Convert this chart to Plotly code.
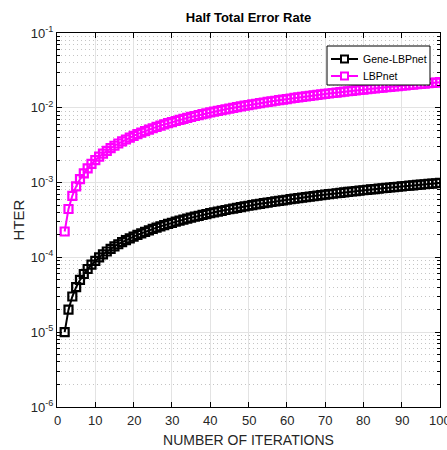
import plotly.graph_objects as go

# ---- data ----
iterations = [
    2, 3, 4, 5, 6, 7, 8, 9, 10,
    11, 12, 13, 14, 15, 16, 17, 18, 19, 20,
    21, 22, 23, 24, 25, 26, 27, 28, 29, 30,
    31, 32, 33, 34, 35, 36, 37, 38, 39, 40,
    41, 42, 43, 44, 45, 46, 47, 48, 49, 50,
    51, 52, 53, 54, 55, 56, 57, 58, 59, 60,
    61, 62, 63, 64, 65, 66, 67, 68, 69, 70,
    71, 72, 73, 74, 75, 76, 77, 78, 79, 80,
    81, 82, 83, 84, 85, 86, 87, 88, 89, 90,
    91, 92, 93, 94, 95, 96, 97, 98, 99, 100,
]

gene_lbpnet = [
    1.0e-5, 2.0e-5, 3.0e-5, 4.0e-5, 5.0e-5, 6.0e-5, 7.0e-5, 8.0e-5, 9.0e-5,
    1.0e-4, 1.1e-4, 1.2e-4, 1.3e-4, 1.4e-4, 1.5e-4, 1.6e-4, 1.7e-4, 1.8e-4, 1.9e-4,
    2.0e-4, 2.1e-4, 2.2e-4, 2.3e-4, 2.4e-4, 2.5e-4, 2.6e-4, 2.7e-4, 2.8e-4, 2.9e-4,
    3.0e-4, 3.1e-4, 3.2e-4, 3.3e-4, 3.4e-4, 3.5e-4, 3.6e-4, 3.7e-4, 3.8e-4, 3.9e-4,
    4.0e-4, 4.1e-4, 4.2e-4, 4.3e-4, 4.4e-4, 4.5e-4, 4.6e-4, 4.7e-4, 4.8e-4, 4.9e-4,
    5.0e-4, 5.1e-4, 5.2e-4, 5.3e-4, 5.4e-4, 5.5e-4, 5.6e-4, 5.7e-4, 5.8e-4, 5.9e-4,
    6.0e-4, 6.1e-4, 6.2e-4, 6.3e-4, 6.4e-4, 6.5e-4, 6.6e-4, 6.7e-4, 6.8e-4, 6.9e-4,
    7.0e-4, 7.1e-4, 7.2e-4, 7.3e-4, 7.4e-4, 7.5e-4, 7.6e-4, 7.7e-4, 7.8e-4, 7.9e-4,
    8.0e-4, 8.1e-4, 8.2e-4, 8.3e-4, 8.4e-4, 8.5e-4, 8.6e-4, 8.7e-4, 8.8e-4, 8.9e-4,
    9.0e-4, 9.1e-4, 9.2e-4, 9.3e-4, 9.4e-4, 9.5e-4, 9.6e-4, 9.7e-4, 9.8e-4, 9.9e-4,
]

lbpnet = [
    2.22e-4, 4.44e-4, 6.66e-4, 8.88e-4, 1.11e-3, 1.33e-3, 1.55e-3, 1.78e-3, 2.00e-3,
    2.22e-3, 2.44e-3, 2.66e-3, 2.89e-3, 3.11e-3, 3.33e-3, 3.55e-3, 3.77e-3, 4.00e-3, 4.22e-3,
    4.44e-3, 4.66e-3, 4.88e-3, 5.11e-3, 5.33e-3, 5.55e-3, 5.77e-3, 5.99e-3, 6.22e-3, 6.44e-3,
    6.66e-3, 6.88e-3, 7.10e-3, 7.33e-3, 7.55e-3, 7.77e-3, 7.99e-3, 8.21e-3, 8.44e-3, 8.66e-3,
    8.88e-3, 9.10e-3, 9.32e-3, 9.55e-3, 9.77e-3, 9.99e-3, 1.021e-2, 1.043e-2, 1.066e-2, 1.088e-2,
    1.110e-2, 1.132e-2, 1.154e-2, 1.177e-2, 1.199e-2, 1.221e-2, 1.243e-2, 1.265e-2, 1.288e-2, 1.310e-2,
    1.332e-2, 1.354e-2, 1.376e-2, 1.399e-2, 1.421e-2, 1.443e-2, 1.465e-2, 1.487e-2, 1.510e-2, 1.532e-2,
    1.554e-2, 1.576e-2, 1.598e-2, 1.621e-2, 1.643e-2, 1.665e-2, 1.687e-2, 1.709e-2, 1.732e-2, 1.754e-2,
    1.776e-2, 1.798e-2, 1.820e-2, 1.843e-2, 1.865e-2, 1.887e-2, 1.909e-2, 1.931e-2, 1.954e-2, 1.976e-2,
    1.998e-2, 2.020e-2, 2.042e-2, 2.065e-2, 2.087e-2, 2.109e-2, 2.131e-2, 2.153e-2, 2.176e-2, 2.198e-2,
]

series_names = ["Gene-LBPnet", "LBPnet"]
series_colors = ["black", "#ff00ff"]

x_ticks = [0, 10, 20, 30, 40, 50, 60, 70, 80, 90, 100]
x_ticklabels = ["0", "10", "20", "30", "40", "50", "60", "70", "80", "90", "100"]
y_tickvals = [1e-6, 1e-5, 1e-4, 1e-3, 1e-2, 1e-1]
y_ticktext = ["10<sup>-6</sup>", "10<sup>-5</sup>", "10<sup>-4</sup>",
              "10<sup>-3</sup>", "10<sup>-2</sup>", "10<sup>-1</sup>"]

FONT = "Liberation Sans, Arial, sans-serif"
TXT = "#262626"

W, H = 447, 450
ML, MR, MT, MB = 57, 7, 33, 43
PW, PH = W - ML - MR, H - MT - MB


def px_to_paper(px, py):
    return (px - ML) / PW, (H - MB - py) / PH


fig = go.Figure()
for name, vals, col in zip(series_names, [gene_lbpnet, lbpnet], series_colors):
    fig.add_trace(go.Scatter(
        x=iterations, y=vals, name=name, mode="lines+markers", showlegend=False,
        line=dict(color=col, width=2),
        marker=dict(symbol="square-open", size=8, color=col, line=dict(width=2.2)),
    ))

# x tick labels as annotations so the last one ("100") is kept, cut by the edge as in the reference
for v, t in zip(x_ticks, x_ticklabels):
    fig.add_annotation(x=v, y=0, xref="x", yref="paper", text=t, showarrow=False,
                       yshift=-13, xanchor="center", yanchor="middle",
                       font=dict(family=FONT, size=13, color=TXT))

# legend box (MATLAB style)
x0, y0 = px_to_paper(327, 46)
x1, y1 = px_to_paper(430, 85)
fig.add_shape(type="rect", xref="paper", yref="paper", x0=x0, y0=y1, x1=x1, y1=y0,
              line=dict(color="black", width=1), fillcolor="white", layer="above")
for i, (name, col) in enumerate(zip(series_names, series_colors)):
    row_y = 59 + 17 * i
    lx0, ly = px_to_paper(331, row_y)
    lx1, _ = px_to_paper(358, row_y)
    fig.add_shape(type="line", xref="paper", yref="paper", x0=lx0, x1=lx1, y0=ly, y1=ly,
                  line=dict(color=col, width=2), layer="above")
    sx0, sy0 = px_to_paper(341, row_y - 3.5)
    sx1, sy1 = px_to_paper(348, row_y + 3.5)
    fig.add_shape(type="rect", xref="paper", yref="paper", x0=sx0, x1=sx1, y0=sy1, y1=sy0,
                  line=dict(color=col, width=2), fillcolor="white", layer="above")
    tx, ty = px_to_paper(361, row_y)
    fig.add_annotation(x=tx, y=ty, xref="paper", yref="paper", text=name, showarrow=False,
                       xanchor="left", yanchor="middle",
                       font=dict(family=FONT, size=10.5, color="black"))

fig.update_layout(
    template="none",
    width=W, height=H,
    margin=dict(l=ML, r=MR, t=MT, b=MB),
    paper_bgcolor="white", plot_bgcolor="white",
    font=dict(family=FONT, color=TXT, size=13),
    title=dict(text="<b>Half Total Error Rate</b>", x=(57 + 440) / 2 / W, xanchor="center",
               y=1 - 17 / H, yanchor="middle",
               font=dict(family=FONT, size=13, color="black")),
    showlegend=False,
    xaxis=dict(
        range=[0, 100], tickvals=x_ticks, showticklabels=False,
        showline=True, linecolor="black", linewidth=1, mirror="ticks",
        ticks="inside", ticklen=5, tickcolor="black",
        showgrid=True, gridcolor="#e3e3e3", gridwidth=1, zeroline=False,
        title=dict(text="NUMBER OF ITERATIONS", standoff=28,
                   font=dict(family=FONT, size=14, color=TXT)),
        automargin=False,
    ),
    yaxis=dict(
        type="log", range=[-6, -1], tickvals=y_tickvals, ticktext=y_ticktext,
        showline=True, linecolor="black", linewidth=1, mirror="ticks",
        ticks="inside", ticklen=5, tickcolor="black",
        showgrid=True, gridcolor="#e3e3e3", gridwidth=1, zeroline=False,
        tickfont=dict(family=FONT, size=13, color=TXT),
        title=dict(text="HTER", standoff=2,
                   font=dict(family=FONT, size=15, color=TXT)),
        minor=dict(dtick="D1", ticks="inside", ticklen=3, tickcolor="black",
                   showgrid=True, gridcolor="#c4c4c4", griddash="1px,3px", gridwidth=1),
        automargin=False,
    ),
)

fig.write_html("out.html")
